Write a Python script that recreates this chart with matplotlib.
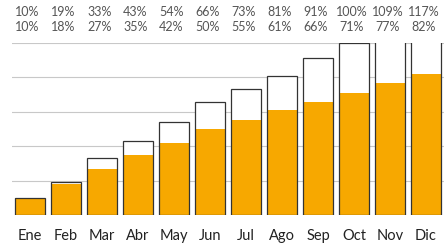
import matplotlib.pyplot as plt
import numpy as np

# ------------------------------
# DATA
# ------------------------------
months = ["Ene", "Feb", "Mar", "Abr", "May", "Jun", "Jul", "Ago", "Sep", "Oct", "Nov", "Dic"]
target = [10, 19, 33, 43, 54, 66, 73, 81, 91, 100, 109, 117]
actual = [10, 18, 27, 35, 42, 50, 55, 61, 66, 71, 77, 82]

plt.rcParams['font.family'] = ['Lato', 'DejaVu Sans']

fig = plt.figure(figsize=(4.44, 2.43), dpi=100)
ax = fig.add_axes([0.027, 0.115, 0.973, 0.708])

x = np.arange(len(months))
w = 0.86

# --- gridlines ---
for g in [20, 40, 60, 80, 100]:
    ax.axhline(g, color='#c8c8c8', linewidth=0.8, zorder=0)

# --- bars: hollow target, orange actual, outline on top ---
ax.bar(x, target, width=w, color='white', zorder=1)
ax.bar(x, actual, width=w, color='#F7A800', zorder=2)
ax.bar(x, target, width=w, fill=False, edgecolor='#333333', linewidth=0.9, zorder=3)

ax.set_xlim(-0.5, 11.5)
ax.set_ylim(0, 100)
ax.axis('off')

# --- month labels and percentage rows ---
for i, m in enumerate(months):
    xf = ax.transData.transform((i, 0))[0] / fig.bbox.width
    fig.text(xf, 0.028, m, ha='center', va='center', fontsize=10.5, color='#222222')
    fig.text(xf - 0.006, 0.95, f"{target[i]}%", ha='center', va='center', fontsize=9, color='#555555')
    fig.text(xf - 0.006, 0.889, f"{actual[i]}%", ha='center', va='center', fontsize=9, color='#555555')

fig.savefig("out.png", dpi=100)
